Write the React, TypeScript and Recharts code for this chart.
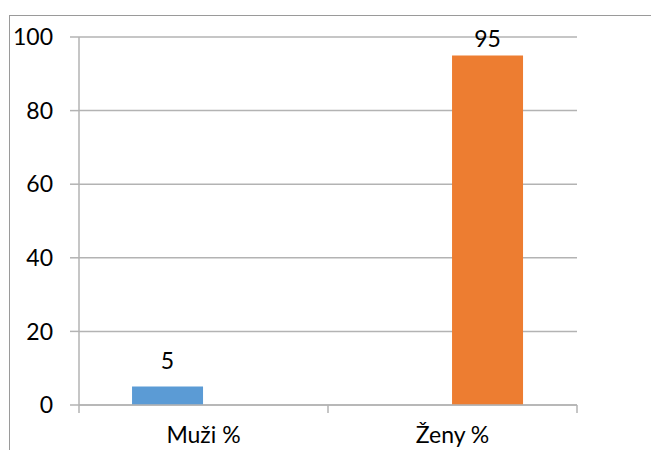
import React from "react";
import { BarChart, Bar, XAxis, YAxis, CartesianGrid, LabelList } from "recharts";

const categories = ["Muži %", "Ženy %"];
const muziValues = [5, null];
const zenyValues = [null, 95];
const yTicks = [0, 20, 40, 60, 80, 100];

const data = categories.map((name, i) => ({
  name,
  muzi: muziValues[i],
  zeny: zenyValues[i],
}));

const W = 651;
const H = 450;
const AXIS_W = 79;
const RIGHT = 74;
const GRID = "#b3b3b3";
const FONT = "Lato, 'Open Sans', sans-serif";

function CategoryTick(props: any) {
  const { x, y, payload, index } = props;
  const band = (W - AXIS_W - RIGHT) / categories.length;
  const half = payload && payload.offset ? payload.offset : band / 2;
  const last = index === categories.length - 1;
  return (
    <g>
      <line x1={x - half} x2={x - half} y1={y} y2={y + 8} stroke={GRID} strokeWidth={1.5} />
      {last && <line x1={x + half} x2={x + half} y1={y} y2={y + 8} stroke={GRID} strokeWidth={1.5} />}
      <text x={x} y={y + 38} textAnchor="middle" fill="#000" fontSize={23} fontFamily={FONT}>
        {payload.value}
      </text>
    </g>
  );
}

export default function App() {
  return (
    <div style={{ position: "absolute", left: 0, top: 0, width: W, height: H, overflow: "hidden", background: "#fff" }}>
      <div
        style={{
          position: "absolute",
          left: 9,
          top: 15,
          width: 800,
          height: 600,
          border: "1.5px solid #9a9a9a",
        }}
      />
      <div style={{ position: "absolute", left: 0, top: 0 }}>
        <BarChart
          width={W}
          height={H}
          data={data}
          margin={{ top: 37, right: RIGHT, bottom: 0, left: 0 }}
          barCategoryGap="21.3%"
          barGap={0}
        >
          <CartesianGrid vertical={false} stroke={GRID} strokeWidth={1.5} strokeDasharray="" />
          <XAxis
            dataKey="name"
            height={45}
            axisLine={{ stroke: GRID, strokeWidth: 1.5 }}
            tickLine={false}
            tickSize={0}
            tickMargin={0}
            tick={<CategoryTick />}
            interval={0}
          />
          <YAxis
            width={AXIS_W}
            domain={[0, 100]}
            ticks={yTicks}
            interval={0}
            axisLine={{ stroke: GRID, strokeWidth: 1.5 }}
            tickLine={{ stroke: GRID, strokeWidth: 1.5 }}
            tickSize={9}
            tickMargin={17}
            tick={{ fill: "#000", fontSize: 23, fontFamily: FONT }}
          />
          <Bar dataKey="muzi" fill="#5b9bd5" isAnimationActive={false}>
            <LabelList dataKey="muzi" position="top" offset={18} fill="#000" fontSize={23} fontFamily={FONT} />
          </Bar>
          <Bar dataKey="zeny" fill="#ed7d31" isAnimationActive={false}>
            <LabelList dataKey="zeny" position="top" offset={8} fill="#000" fontSize={23} fontFamily={FONT} />
          </Bar>
        </BarChart>
      </div>
    </div>
  );
}
